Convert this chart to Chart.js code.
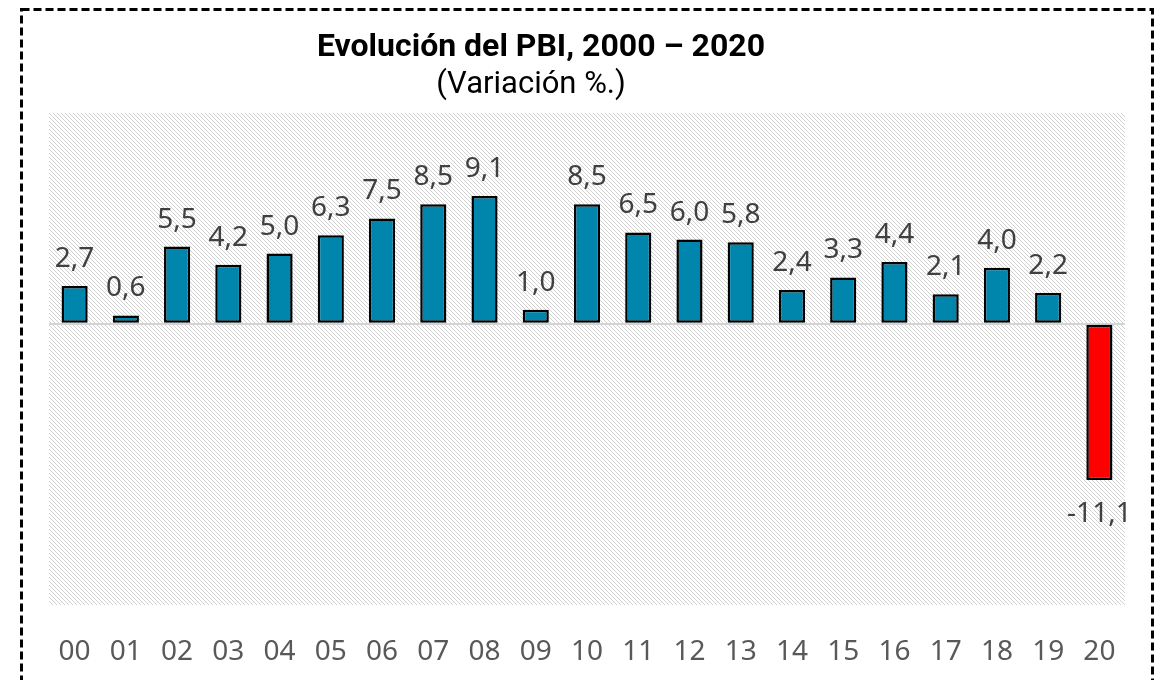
<!DOCTYPE html>
<html>
<head>
<meta charset="utf-8">
<script src="https://cdn.jsdelivr.net/npm/chart.js@4"></script>
<style>
  html, body { margin: 0; padding: 0; background: #fff; }
  #wrap { width: 1163px; height: 680px; position: relative; }
</style>
</head>
<body>
<div id="wrap"><canvas id="chart"></canvas></div>
<script>
// data
const years = ['00', '01', '02', '03', '04', '05', '06', '07', '08', '09', '10',
  '11', '12', '13', '14', '15', '16', '17', '18', '19', '20'];
const growth = [2.7, 0.6, 5.5, 4.2, 5.0, 6.3, 7.5, 8.5, 9.1, 1.0, 8.5,
  6.5, 6.0, 5.8, 2.4, 3.3, 4.4, 2.1, 4.0, 2.2, -11.1];
const titleText = 'Evolución del PBI, 2000 – 2020';
const subtitleText = '(Variación %.)';

const BLUE = '#0086AD';
const RED = '#FF0000';

// diagonal hatch for the plot area
function makeHatch() {
  const c = document.createElement('canvas');
  c.width = 8;
  c.height = 8;
  const g = c.getContext('2d');
  g.fillStyle = '#ffffff';
  g.fillRect(0, 0, 8, 8);
  g.fillStyle = '#d0d0d0';
  for (let y = 0; y < 8; y++) {
    for (let x = 0; x < 8; x++) {
      if ((x - y + 16) % 4 === 0) g.fillRect(x, y, 1, 1);
    }
  }
  return g.createPattern(c, 'repeat');
}

const decorPlugin = {
  id: 'decor',
  beforeDraw(chart) {
    const {ctx, chartArea: a} = chart;
    ctx.save();
    ctx.fillStyle = makeHatch();
    ctx.fillRect(a.left, a.top, a.right - a.left, a.bottom - a.top);
    ctx.restore();
  },
  afterDatasetsDraw(chart) {
    const ctx = chart.ctx;
    const meta = chart.getDatasetMeta(0);
    ctx.save();
    ctx.font = '28px "Noto Sans"';
    ctx.fillStyle = '#404040';
    ctx.textAlign = 'center';
    ctx.textBaseline = 'alphabetic';
    meta.data.forEach((bar, i) => {
      const v = growth[i];
      const txt = v.toFixed(1).replace('.', ',');
      if (v >= 0) {
        ctx.fillText(txt, bar.x, bar.y - 19);
      } else {
        ctx.fillText(txt, bar.x, bar.y + 42);
      }
    });
    ctx.restore();
  },
  afterDraw(chart) {
    const ctx = chart.ctx;
    ctx.save();
    ctx.fillStyle = '#000';
    ctx.textAlign = 'center';
    ctx.textBaseline = 'alphabetic';
    ctx.font = 'bold 32px Roboto';
    ctx.fillText(titleText, 541, 56);
    ctx.font = '31px Roboto';
    ctx.fillText(subtitleText, 531, 93);
    // dashed frame
    ctx.strokeStyle = '#000';
    ctx.lineWidth = 3;
    ctx.setLineDash([8, 4]);
    ctx.strokeRect(21.5, 9.5, 1131, 700);
    ctx.restore();
  }
};

new Chart(document.getElementById('chart'), {
  type: 'bar',
  data: {
    labels: years,
    datasets: [{
      data: growth,
      backgroundColor: growth.map(v => v < 0 ? RED : BLUE),
      borderColor: '#000',
      borderWidth: 2.5,
      borderSkipped: false,
      categoryPercentage: 1,
      barPercentage: 0.51
    }]
  },
  options: {
    responsive: true,
    maintainAspectRatio: false,
    animation: false,
    layout: {
      padding: {left: 49, right: 38, top: 113, bottom: 0}
    },
    plugins: {
      legend: {display: false},
      tooltip: {enabled: false}
    },
    scales: {
      x: {
        grid: {display: false},
        border: {display: false},
        ticks: {
          color: '#595959',
          font: {family: 'Noto Sans', size: 28},
          padding: 22,
          maxRotation: 0
        },
        afterFit(scale) { scale.height = 75; }
      },
      y: {
        min: -20,
        max: 15,
        ticks: {display: false, stepSize: 5},
        border: {display: false},
        grid: {
          drawTicks: false,
          lineWidth: 2,
          color: c => c.tick && c.tick.value === 0 ? '#d4d4d4' : 'rgba(0,0,0,0)'
        },
        afterFit(scale) { scale.width = 0; }
      }
    }
  },
  plugins: [decorPlugin]
});
</script>
</body>
</html>
